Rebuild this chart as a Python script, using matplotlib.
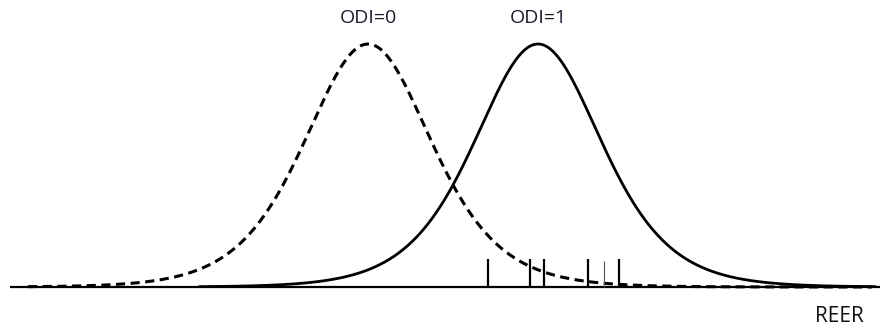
import numpy as np
import matplotlib.pyplot as plt

# two logistic densities, x in REER units (arbitrary)
mu_odi0 = 368
mu_odi1 = 538
scale = 42.5
peak_height = 243
# observed REER values (rug marks)
rug_x = [488, 530, 544, 588, 619]
rug_thin_x = [604]
labels = ['ODI=0', 'ODI=1']

def logistic(x, mu, s):
    z = np.exp(-(x - mu) / s)
    return 4 * z / (1 + z) ** 2

fig = plt.figure(figsize=(8.8, 3.28), dpi=100)
ax = fig.add_axes([0, 0, 1, 1])
ax.set_xlim(0, 880)
ax.set_ylim(-41, 287)
ax.axis('off')

x = np.linspace(28, 872, 800)
ax.plot(x, peak_height * logistic(x, mu_odi0, scale), color='black', lw=2.2,
        linestyle=(0, (3, 1.8)))
x1 = np.linspace(200, 875, 800)
ax.plot(x1, peak_height * logistic(x1, mu_odi1, scale), color='black', lw=2.0)

# baseline
ax.plot([10, 880], [0, 0], color='black', lw=1.6, solid_capstyle='butt')

ax.vlines(rug_x, 0, 28, color='black', lw=1.6)
ax.vlines(rug_thin_x, 0, 26, color='#555555', lw=0.8)

font = ['Open Sans', 'DejaVu Sans']
for lab, mu in zip(labels, [mu_odi0, mu_odi1]):
    ax.text(mu, 269, lab, ha='center', va='center', fontsize=14,
            family=font, color='#1a1a2a')
ax.text(839, -29, 'REER', ha='center', va='center', fontsize=15,
        family=font, color='#111111')

fig.savefig('out.png', dpi=100)
